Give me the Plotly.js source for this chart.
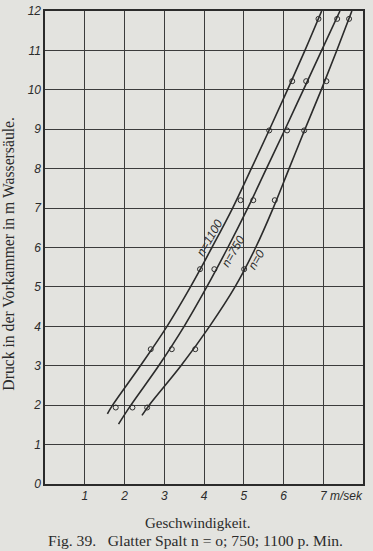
<!DOCTYPE html>
<html>
<head>
<meta charset="utf-8">
<script src="https://cdn.plot.ly/plotly-3.0.1.min.js"></script>
<style>
  html, body { margin: 0; padding: 0; background: #e3e3df; }
  #chart { width: 373px; height: 551px; }
</style>
</head>
<body>
<div id="chart"></div>
<script>
// Measured points (pressure levels, m water column)
const markerPressure = [1.94, 3.42, 5.45, 7.20, 8.97, 10.22, 11.80];
// Measured velocities (m/sek) for each speed
const speed1100 = [1.78, 2.66, 3.90, 4.92, 5.64, 6.22, 6.88];
const speed750  = [2.20, 3.19, 4.26, 5.24, 6.09, 6.57, 7.35];
const speed0    = [2.57, 3.78, 5.01, 5.78, 6.52, 7.08, 7.65];

// Drawn (faired) curves
const curveP1100 = [1.78, 2, 3, 4, 5, 6, 7, 8, 9, 10, 11, 12];
const curveV1100 = [1.57, 1.70, 2.40, 3.07, 3.66, 4.20, 4.72, 5.19, 5.65, 6.10, 6.54, 6.96];
const curveP750  = [1.52, 2, 3, 4, 5, 6, 7, 8, 9, 10, 11, 12];
const curveV750  = [1.85, 2.16, 2.86, 3.50, 4.07, 4.60, 5.10, 5.57, 6.04, 6.50, 6.96, 7.42];
const curveP0    = [1.74, 2, 3, 4, 5, 6, 7, 8, 9, 10, 11, 12];
const curveV0    = [2.44, 2.62, 3.42, 4.14, 4.78, 5.30, 5.74, 6.14, 6.54, 6.95, 7.34, 7.72];

const xTickVals = [1, 2, 3, 4, 5, 6, 7];
const xTickText = ['1', '2', '3', '4', '5', '6', '7'];
const yTickVals = [0, 1, 2, 3, 4, 5, 6, 7, 8, 9, 10, 11, 12];
const yTickText = ['0', '1', '2', '3', '4', '5', '6', '7', '8', '9', '10', '11', '12'];

const curveLabels = ['n=1100', 'n=750', 'n=0'];
const labelV = [4.14, 4.74, 5.31];
const labelP = [6.24, 5.91, 5.69];

const ink = '#2b2b2b';
const bg = '#e3e3df';

function curve(x, y) {
  return { x: x, y: y, mode: 'lines', type: 'scatter', hoverinfo: 'skip',
    line: { color: ink, width: 1.6, shape: 'spline', smoothing: 1 }, showlegend: false };
}
function pts(x, y) {
  return { x: x, y: y, mode: 'markers', type: 'scatter', showlegend: false,
    marker: { symbol: 'circle-open', size: 5, color: ink, line: { color: ink, width: 1 } } };
}

const data = [
  curve(curveV1100, curveP1100),
  curve(curveV750, curveP750),
  curve(curveV0, curveP0),
  pts(speed1100, markerPressure),
  pts(speed750, markerPressure),
  pts(speed0, markerPressure)
];

const italicTick = { family: 'Liberation Sans, Arial, sans-serif', size: 12, color: ink, style: 'italic' };
const serif = { family: 'Liberation Serif, Times New Roman, serif', size: 15, color: ink };

const annotations = curveLabels.map((t, i) => ({
  x: labelV[i], y: labelP[i], xref: 'x', yref: 'y', text: t, showarrow: false,
  textangle: -60, font: { family: 'Liberation Sans, Arial, sans-serif', size: 12, color: ink, style: 'italic' }
}));
annotations.push({
  x: 7.58, y: 0, xref: 'x', yref: 'y', yshift: -12, text: 'm/sek', showarrow: false,
  font: italicTick
});
// y axis title
annotations.push({
  x: 0, y: 0.487, xref: 'paper', yref: 'paper', xanchor: 'center', yanchor: 'middle',
  xshift: -36, textangle: -90,
  text: 'Druck in der Vorkammer in m Wassersäule.', showarrow: false,
  font: { family: 'Liberation Serif, Times New Roman, serif', size: 15.7, color: ink }
});
// x axis title
annotations.push({
  x: 0.479, y: -0.082, xref: 'paper', yref: 'paper', xanchor: 'center', yanchor: 'middle',
  text: 'Geschwindigkeit.', showarrow: false, font: serif
});
// caption
annotations.push({
  x: 0.472, y: -0.12, xref: 'paper', yref: 'paper', xanchor: 'center', yanchor: 'middle',
  text: 'Fig. 39.&nbsp;&nbsp; Glatter Spalt n = o; 750; 1100 p. Min.', showarrow: false,
  font: { family: 'Liberation Serif, Times New Roman, serif', size: 15.6, color: ink }
});

const layout = {
  width: 373, height: 551,
  margin: { l: 45, r: 10, t: 11, b: 67 },
  paper_bgcolor: bg, plot_bgcolor: bg,
  showlegend: false,
  xaxis: {
    range: [0, 8], tickvals: xTickVals, ticktext: xTickText, tickfont: italicTick,
    showgrid: true, gridcolor: '#3c3c3c', gridwidth: 1,
    zeroline: false, showline: true, linecolor: ink, linewidth: 1.6, mirror: true,
    ticks: '', fixedrange: true
  },
  yaxis: {
    range: [0, 12], tickvals: yTickVals, ticktext: yTickText, tickfont: italicTick,
    showgrid: true, gridcolor: '#3c3c3c', gridwidth: 1,
    zeroline: false, showline: true, linecolor: ink, linewidth: 1.6, mirror: true,
    ticks: '', fixedrange: true
  },
  annotations: annotations
};

Plotly.newPlot('chart', data, layout, { displayModeBar: false, staticPlot: true });
</script>
</body>
</html>
